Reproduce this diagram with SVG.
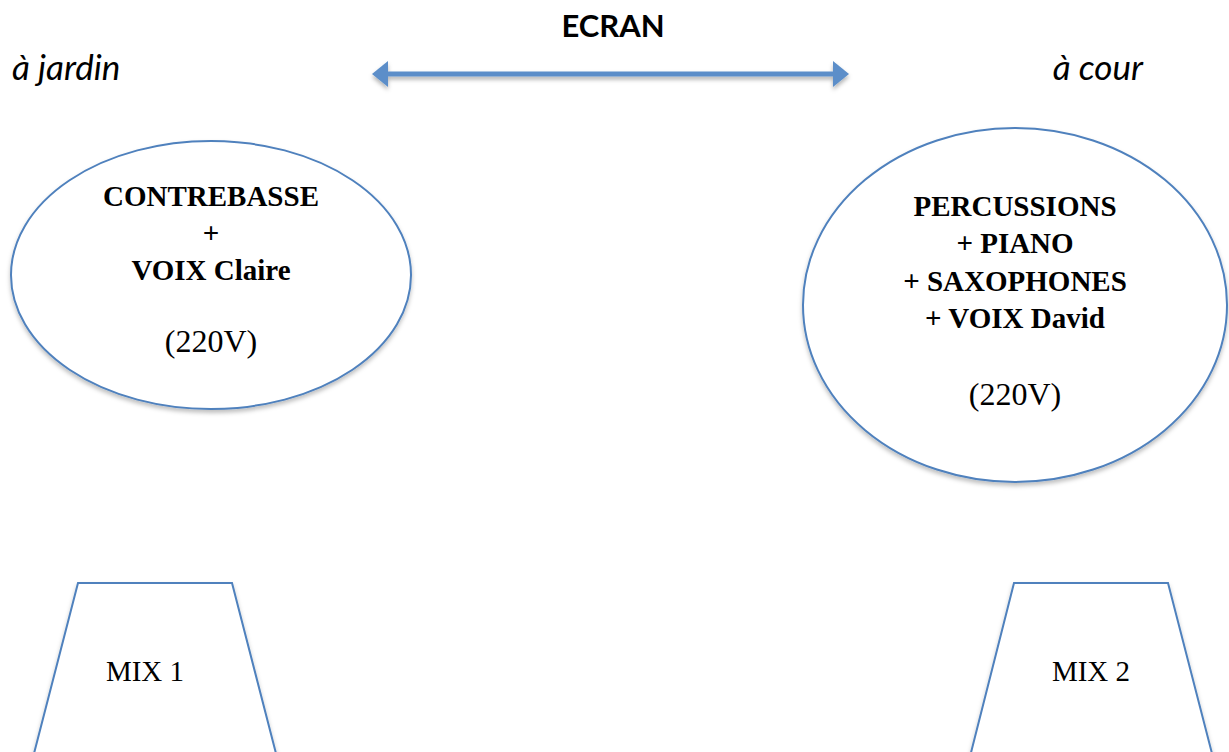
<svg xmlns="http://www.w3.org/2000/svg" width="1229" height="752" viewBox="0 0 1229 752">
<style>
.shape{fill:#ffffff;stroke:#4f81bd;stroke-width:2}
.sans{font-family:Lato,"Open Sans","Liberation Sans",sans-serif;fill:#000}
.serif{font-family:"Liberation Serif","DejaVu Serif",serif;fill:#000;text-anchor:middle}
.b{font-weight:bold;font-size:29px}
.r{font-size:29px}
.v{font-size:32px}
</style>
<defs>
<filter id="sh" x="-10%" y="-10%" width="120%" height="130%">
<feDropShadow dx="0" dy="3" stdDeviation="2" flood-color="#000" flood-opacity="0.25"/>
</filter>
<filter id="sha" filterUnits="userSpaceOnUse" x="350" y="50" width="520" height="60">
<feDropShadow dx="0" dy="3" stdDeviation="2" flood-color="#000" flood-opacity="0.3"/>
</filter>
<marker id="ah" viewBox="0 0 16 26" refX="2" refY="13" markerWidth="16" markerHeight="26" markerUnits="userSpaceOnUse" orient="auto-start-reverse">
<path d="M0,0 L16,13 L0,26 Z" fill="#5b8ec9"/>
</marker>
</defs>
<g id="labels">
<text class="sans" x="613" y="37" font-size="31" font-weight="bold" text-anchor="middle">ECRAN</text>
<text class="sans" x="12" y="80" font-size="35" font-style="italic">à jardin</text>
<text class="sans" x="1143" y="80" font-size="35" font-style="italic" text-anchor="end">à cour</text>
</g>
<g id="connectors" filter="url(#sha)">
<line x1="386" y1="74" x2="835" y2="74" stroke="#5b8ec9" stroke-width="5" marker-start="url(#ah)" marker-end="url(#ah)"/>
</g>
<g id="jardin">
<ellipse class="shape" cx="211" cy="275" rx="200" ry="134" filter="url(#sh)"/>
<text class="serif b" x="211" y="206">CONTREBASSE</text>
<text class="serif b" x="211" y="243">+</text>
<text class="serif b" x="211" y="280">VOIX Claire</text>
<text class="serif v" x="211" y="352">(220V)</text>
</g>
<g id="cour">
<ellipse class="shape" cx="1015" cy="305" rx="212" ry="177" filter="url(#sh)"/>
<text class="serif b" x="1015" y="216">PERCUSSIONS</text>
<text class="serif b" x="1015" y="253">+ PIANO</text>
<text class="serif b" x="1015" y="291">+ SAXOPHONES</text>
<text class="serif b" x="1015" y="328">+ VOIX David</text>
<text class="serif v" x="1015" y="405">(220V)</text>
</g>
<g id="mix1">
<polygon class="shape" points="78,583 232,583 288,800 22,800" filter="url(#sh)"/>
<text class="serif r" x="145" y="681">MIX 1</text>
</g>
<g id="mix2">
<polygon class="shape" points="1014,583 1168,583 1224,800 959,800" filter="url(#sh)"/>
<text class="serif r" x="1091" y="681">MIX 2</text>
</g>
</svg>
